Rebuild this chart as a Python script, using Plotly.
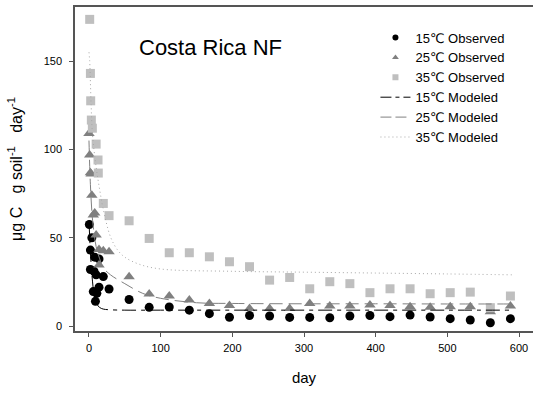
import plotly.graph_objects as go

# 15 C observed
obs15_day = [0.5, 2, 2, 4, 6, 7, 8, 9, 10, 11, 14, 14, 20, 28, 56, 84, 112, 140, 168, 196, 224,
             252, 280, 308, 336, 364, 392, 420, 448, 476, 504, 532, 560, 588]
obs15_val = [57.5, 43, 32, 50, 19.5, 31, 39, 14, 29, 18.5, 38, 22, 28, 21, 15, 10.6, 10.8, 9, 7, 5, 6,
             5.7, 4.9, 4.9, 4.7, 5.7, 6, 5.3, 6.2, 5.1, 4.2, 3.4, 1.9, 4.2]
# 25 C observed
obs25_day = [0, 1, 2, 3, 4, 6, 8, 10, 14, 14, 20, 28, 56, 84, 112, 140, 168, 196, 224,
             252, 280, 308, 336, 364, 392, 420, 448, 476, 504, 532, 560, 588]
obs25_val = [109, 96.8, 86.8, 86, 74, 62.8, 64, 51.5, 43.4, 34.5, 42.6, 42, 27.9, 18.1, 17, 14.7, 12.8, 11.7, 10,
             10, 10, 12.8, 11.3, 11.3, 11.9, 11.7, 10.9, 10.6, 10.9, 10.9, 8.1, 11.3]
# 35 C observed
obs35_day = [1, 2, 2.4, 3.3, 4.7, 10, 12.6, 13, 20, 28, 56, 84, 112, 140, 168, 196, 224,
             252, 280, 308, 336, 364, 392, 420, 448, 476, 504, 532, 560, 588]
obs35_val = [173.6, 143, 127.5, 116.6, 112, 103, 94, 86.6, 69.4, 62.5, 59.6, 49.6, 41.5, 41.5, 39.2, 36.4, 33.6,
             26, 27.5, 21.1, 25.1, 24, 18.9, 21.1, 21.1, 18.3, 18.9, 19.2, 10.4, 17]

# Modeled curves
mod15_day = [0, 1, 2, 3, 5, 7, 10, 15, 20, 30, 50, 100, 200, 300, 400, 500, 590]
mod15_val = [60, 50, 42, 35, 25, 18, 13, 10.5, 9.6, 9.2, 9, 9, 9, 9, 9, 9, 9]
mod25_day = [0, 2, 5, 10, 15, 20, 30, 50, 75, 100, 150, 200, 300, 400, 500, 590]
mod25_val = [105, 80, 60, 45, 38, 33, 29, 24, 18.5, 15.7, 13.2, 12.8, 12.6, 12.6, 12.5, 12.5]
mod35_day = [0, 1, 3, 5, 10, 15, 20, 30, 40, 50, 70, 100, 200, 300, 400, 500, 590]
mod35_val = [155, 150, 125, 108, 90, 77, 66, 50.5, 43, 39, 35, 32.3, 31, 30.5, 30, 29.5, 29]

series_names = ["15℃ Observed", "25℃ Observed", "35℃ Observed",
                "15℃ Modeled", "25℃ Modeled", "35℃ Modeled"]

FONT = "Liberation Sans, Arial, DejaVu Sans, sans-serif"

C15, C25, C35, L35 = "black", "#808080", "#bfbfbf", "#a8a8a8"
D15, D25, D35 = "14px,5px,4px,5px", "13px,6px", "1px,3px"

fig = go.Figure()
fig.add_trace(go.Scatter(x=obs15_day, y=obs15_val, mode="markers", showlegend=False,
                         marker=dict(symbol="circle", size=9, color=C15)))
fig.add_trace(go.Scatter(x=obs25_day, y=obs25_val, mode="markers", showlegend=False,
                         marker=dict(symbol="triangle-up", size=10, color=C25)))
fig.add_trace(go.Scatter(x=obs35_day, y=obs35_val, mode="markers", showlegend=False,
                         marker=dict(symbol="square", size=9, color=C35)))
fig.add_trace(go.Scatter(x=mod15_day, y=mod15_val, mode="lines", showlegend=False,
                         line=dict(color=C15, width=1, dash=D15, shape="spline")))
fig.add_trace(go.Scatter(x=mod25_day, y=mod25_val, mode="lines", showlegend=False,
                         line=dict(color=C25, width=1, dash=D25, shape="spline")))
fig.add_trace(go.Scatter(x=mod35_day, y=mod35_val, mode="lines", showlegend=False,
                         line=dict(color=L35, width=1, dash=D35, shape="spline")))

# legend entries (small symbols as in the reference legend)
fig.add_trace(go.Scatter(x=[None], y=[None], mode="markers", name=series_names[0],
                         marker=dict(symbol="circle", size=6, color=C15)))
fig.add_trace(go.Scatter(x=[None], y=[None], mode="markers", name=series_names[1],
                         marker=dict(symbol="triangle-up", size=6, color=C25)))
fig.add_trace(go.Scatter(x=[None], y=[None], mode="markers", name=series_names[2],
                         marker=dict(symbol="square", size=6, color=C35)))
fig.add_trace(go.Scatter(x=[None], y=[None], mode="lines", name=series_names[3],
                         line=dict(color=C15, width=1, dash="11px,4px,4px,4px")))
fig.add_trace(go.Scatter(x=[None], y=[None], mode="lines", name=series_names[4],
                         line=dict(color=C25, width=1, dash="11px,4px")))
fig.add_trace(go.Scatter(x=[None], y=[None], mode="lines", name=series_names[5],
                         line=dict(color=L35, width=1, dash=D35)))

fig.update_layout(
    width=533, height=394,
    margin=dict(l=75, r=0, t=7, b=63),
    paper_bgcolor="white", plot_bgcolor="white",
    font=dict(family=FONT, color="black", size=11),
    showlegend=True,
    legend=dict(x=0.656, y=0.952, xanchor="left", yanchor="top", bgcolor="rgba(0,0,0,0)",
                font=dict(size=13, family=FONT), tracegroupgap=0),
    xaxis=dict(range=[-19.5, 619.5], tickvals=[0, 100, 200, 300, 400, 500, 600],
               showgrid=False, zeroline=False, showline=True, linecolor="#555555", linewidth=1.5,
               mirror=True, ticks="outside", ticklen=4, tickcolor="#555555", ticklabelstandoff=2,
               title=dict(text="day", font=dict(size=15, family=FONT), standoff=20)),
    yaxis=dict(range=[-2.8, 180.6], tickvals=[0, 50, 100, 150],
               showgrid=False, zeroline=False, showline=True, linecolor="#555555", linewidth=1.5,
               ticks="outside", ticklen=4, tickcolor="#555555", ticklabelstandoff=5,
               title=dict(text="μg C\u00a0\u00a0 g soil<sup>-1</sup>\u00a0\u00a0 day<sup>-1</sup>",
                          font=dict(size=16, family=FONT), standoff=17)),
    annotations=[dict(text="Costa Rica NF", x=(137 - 75) / 458, y=(331 - 47) / 324,
                      xref="paper", yref="paper",
                      xanchor="left", yanchor="middle", showarrow=False,
                      font=dict(size=22, family=FONT))],
)

fig.write_html("out.html")
